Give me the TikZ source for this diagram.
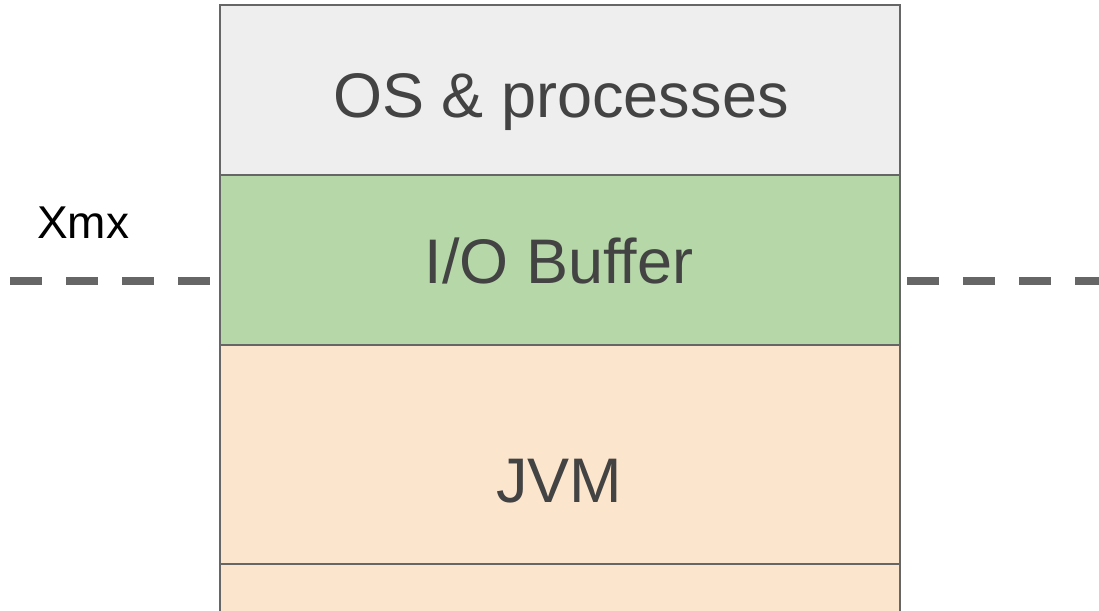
\documentclass[tikz,border=0pt]{standalone}
\usepackage{fontspec}
\setmainfont{Liberation Sans}
\definecolor{osgray}{HTML}{EEEEEE}
\definecolor{iogreen}{HTML}{B6D7A8}
\definecolor{jvmorange}{HTML}{FCE5CD}
\definecolor{edgegray}{HTML}{666666}
\definecolor{textgray}{HTML}{434343}
\tikzset{
  layer/.style={draw=edgegray, line width=2pt, inner sep=0pt, outer sep=0pt, minimum width=680pt},
  layertext/.style={anchor=base, text=textgray, font=\fontsize{63}{70}\selectfont, inner sep=0pt},
  xmxline/.style={draw=edgegray, line width=8pt, dash pattern=on 32pt off 24pt},
}
\begin{document}
\begin{tikzpicture}[x=1pt,y=-1pt]
\useasboundingbox (0,0) rectangle (1099,610);
\node[layer, fill=osgray, minimum height=170pt, anchor=north west] (os) at (220,5) {};
\node[layer, fill=iogreen, minimum height=170pt, anchor=north west] (io) at (220,175) {};
\node[layer, fill=jvmorange, minimum height=219pt, anchor=north west] (jvm) at (220,345) {};
\node[layer, fill=jvmorange, minimum height=60pt, anchor=north west] (extra) at (220,564) {};
\node[layertext] (ost) at (561,117) {OS \& processes};
\node[layertext] (iot) at (559,283) {I/O Buffer};
\node[layertext] (jvmt) at (559,502) {JVM};
\node[anchor=base, inner sep=0pt, font=\fontsize{46}{52}\selectfont] (xmx) at (83,238) {Xmx};
\coordinate (l1) at (10,281);
\coordinate (l2) at (211,281);
\coordinate (r1) at (907,281);
\coordinate (r2) at (1110,281);
\draw[xmxline] (l1) -- (l2);
\draw[xmxline] (r1) -- (r2);
\end{tikzpicture}
\end{document}
